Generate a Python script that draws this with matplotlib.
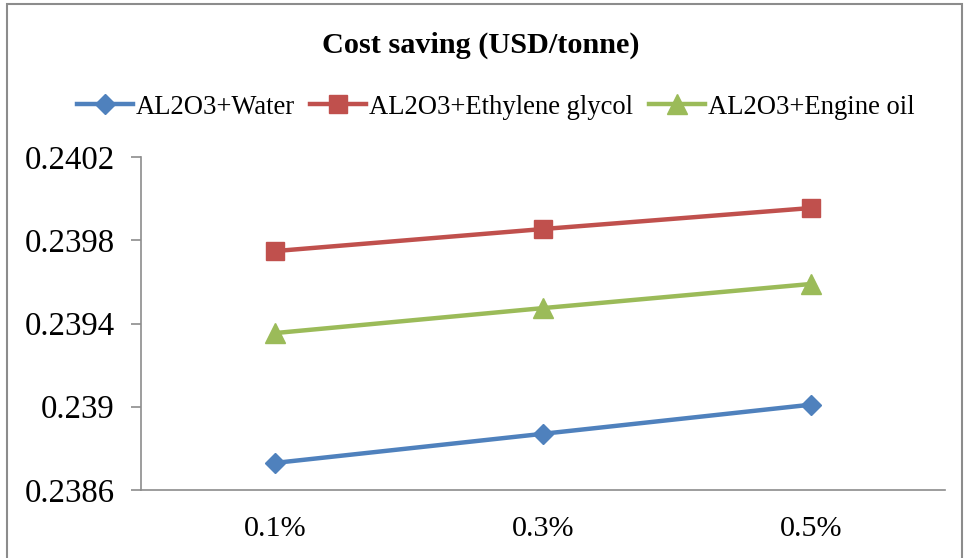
import matplotlib.pyplot as plt
from matplotlib.patches import Rectangle

# nanofluid concentrations and cost saving per base fluid
concentrations = ["0.1%", "0.3%", "0.5%"]
water = [0.23873, 0.23887, 0.23901]
ethylene_glycol = [0.239748, 0.239854, 0.239955]
engine_oil = [0.239354, 0.239474, 0.23959]

y_ticks = [0.2386, 0.2390, 0.2394, 0.2398, 0.2402]
y_tick_labels = ["0.2386", "0.239", "0.2394", "0.2398", "0.2402"]

plt.rcParams['font.family'] = ['Liberation Serif', 'DejaVu Serif']

fig = plt.figure(figsize=(9.64, 5.58), dpi=100)
ax = fig.add_axes([0.1463, 0.1219, 0.8340, 0.5967])

# thin frame round the whole chart
fig.patches.append(Rectangle((7 / 964, -0.05), 955 / 964, 1.05 - 4 / 558,
                             transform=fig.transFigure, fill=False,
                             edgecolor="#8c8c8c", linewidth=1.5))

x = range(len(concentrations))
ax.plot(x, water, color="#4F81BD", lw=3.2, marker="D", ms=10, label="AL2O3+Water")
ax.plot(x, ethylene_glycol, color="#C0504D", lw=3.2, marker="s", ms=13.5,
        label="AL2O3+Ethylene glycol")
ax.plot(x, engine_oil, color="#9BBB59", lw=3.2, marker="^", ms=14,
        label="AL2O3+Engine oil")

ax.set_xlim(-0.5, 2.5)
ax.set_ylim(0.2386, 0.2402)
ax.set_xticks(list(x))
ax.set_xticklabels(concentrations, fontsize=21.7)
ax.set_yticks(y_ticks)
ax.set_yticklabels(y_tick_labels, fontsize=23.7)
ax.tick_params(axis="x", length=0, pad=19)
ax.tick_params(axis="y", length=7, width=1.2, color="#8c8c8c", pad=12)

for side in ["top", "right"]:
    ax.spines[side].set_visible(False)
for side in ["left", "bottom"]:
    ax.spines[side].set_color("#8c8c8c")
    ax.spines[side].set_linewidth(1.2)

fig.text(0.499, 0.918, "Cost saving (USD/tonne)", ha="center", va="center",
         fontsize=21.8, fontweight="bold")

fig.legend(loc="center", bbox_to_anchor=(0.514, 0.808), ncol=3, frameon=False,
           fontsize=19.2, handlelength=2.1, handletextpad=0.1, columnspacing=0.6)

fig.savefig("out.png", dpi=100)
